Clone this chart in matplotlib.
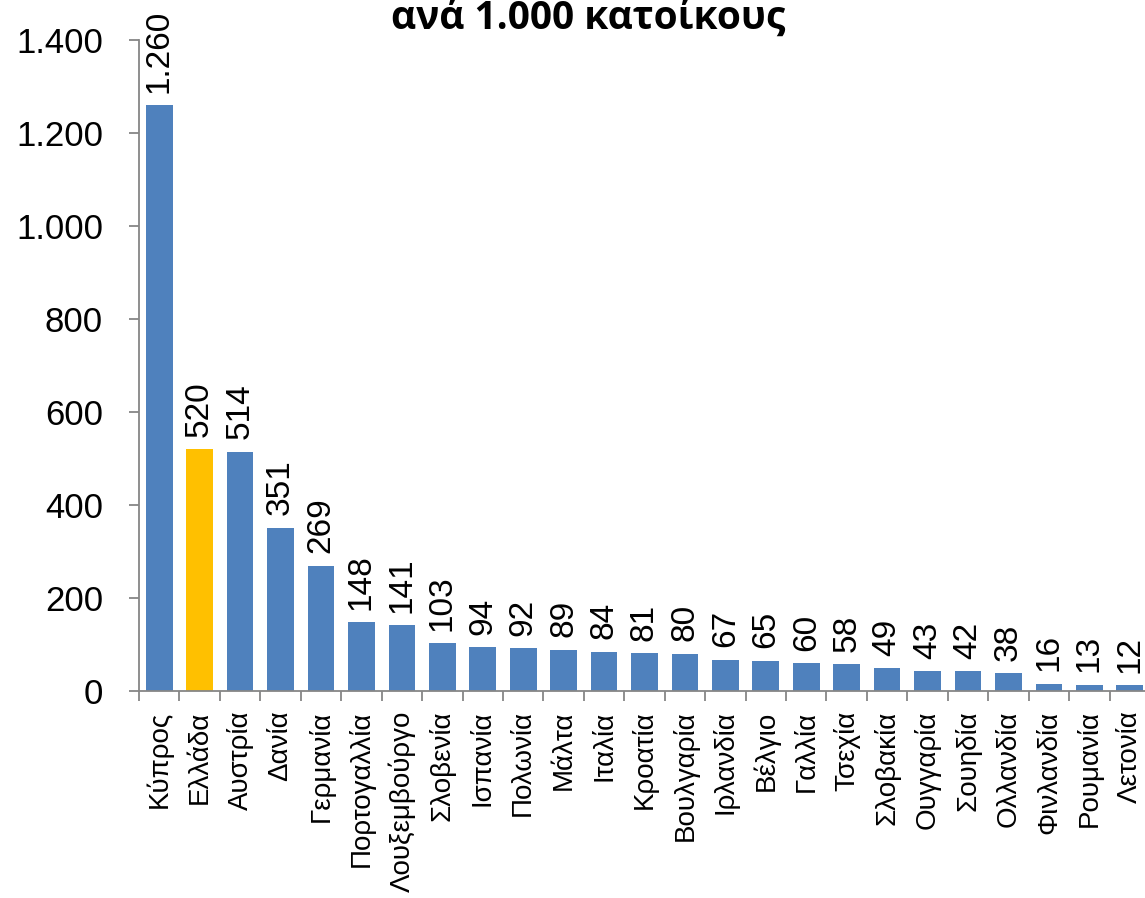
import matplotlib
matplotlib.use("Agg")
import matplotlib.pyplot as plt

countries = ["Κύπρος", "Ελλάδα", "Αυστρία", "Δανία", "Γερμανία", "Πορτογαλλία",
             "Λουξεμβούργο", "Σλοβενία", "Ισπανία", "Πολωνία", "Μάλτα", "Ιταλία",
             "Κροατία", "Βουλγαρία", "Ιρλανδία", "Βέλγιο", "Γαλλία", "Τσεχία",
             "Σλοβακία", "Ουγγαρία", "Σουηδία", "Ολλανδία", "Φινλανδία", "Ρουμανία",
             "Λετονία"]
values = [1260, 520, 514, 351, 269, 148, 141, 103, 94, 92, 89, 84, 81, 80, 67,
          65, 60, 58, 49, 43, 42, 38, 16, 13, 12]
highlight = "Ελλάδα"
yticks = [0, 200, 400, 600, 800, 1000, 1200, 1400]
title = "ανά 1.000 κατοίκους"

def fmt(v):
    return f"{v:,}".replace(",", ".")

plt.rcParams['font.family'] = ['Liberation Sans', 'DejaVu Sans']

fig = plt.figure(figsize=(11.45, 8.98), dpi=100)
ax = fig.add_axes([139/1145, 1 - 691/898, (1150-139)/1145, (691-40)/898])

colors = ["#FFC000" if c == highlight else "#4F81BD" for c in countries]
x = list(range(len(countries)))
bars = ax.bar(x, values, width=0.66, color=colors, zorder=2)

for xi, v in zip(x, values):
    ax.annotate(fmt(v), (xi, v), xytext=(0, 9), textcoords="offset points",
                rotation=90, ha="center", va="bottom", fontsize=24)

ax.set_xlim(-0.5, len(countries) - 0.5)
ax.set_ylim(0, 1400)
ax.set_yticks(yticks)
ax.set_yticklabels([fmt(t) for t in yticks], fontsize=25)
ax.set_xticks([i - 0.5 for i in range(len(countries) + 1)], minor=False)
ax.set_xticklabels([])
ax.set_xticks(x, minor=True)
ax.set_xticklabels(countries, minor=True, rotation=90, fontsize=20)
ax.tick_params(axis="x", which="minor", length=0, pad=14)
ax.tick_params(axis="x", which="major", length=7, width=1.3, color="#868686", direction="out")
ax.tick_params(axis="y", length=7, width=1.3, color="#868686", pad=19)

for s in ["top", "right"]:
    ax.spines[s].set_visible(False)
for s in ["left", "bottom"]:
    ax.spines[s].set_color("#868686")
    ax.spines[s].set_linewidth(1.3)

fig.text(588/1145, 1 - 29/898, title, ha="center", va="baseline",
         fontsize=28, fontweight="bold", family=["Open Sans", "DejaVu Sans"])

fig.savefig("out.png", dpi=100)
